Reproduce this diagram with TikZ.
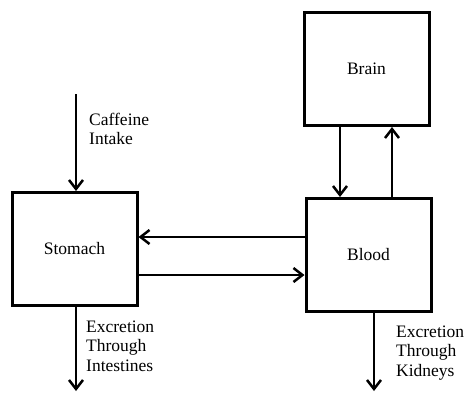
\documentclass[tikz,border=0pt]{standalone}
\usepackage{fontspec}
\setmainfont{Liberation Serif}
\usetikzlibrary{arrows.meta}
\begin{document}
\begin{tikzpicture}[x=1pt, y=-1pt]
        \tikzstyle{organ}=[draw, line width=3pt, rectangle,
            minimum width=125pt, minimum height=113pt, inner sep=0pt,
            font=\fontsize{17.5}{19.5}\selectfont]
        \tikzstyle{flow}=[line width=2.5pt,
            -{Straight Barb[length=9pt, width=14pt, line width=2.5pt]}]
        \tikzstyle{note}=[anchor=west, align=left, inner sep=0pt,
            font=\fontsize{17.5}{19.5}\selectfont]
        \useasboundingbox (0, 0) rectangle (468, 392);

        \node[organ] (stomach) at (74.5, 249) {Stomach};
        \node[organ] (brain) at (366.5, 69) {Brain};
        \node[organ] (blood) at (368.5, 255) {Blood};

        \coordinate (intake) at (76, 94);
        \coordinate (intestines) at (76, 391);
        \coordinate (kidneys) at (374, 391);

        \draw[flow] (intake) -- (intake |- stomach.north);
        \draw[flow] ([xshift=-26.5pt]brain.south) -- ([xshift=-26.5pt]brain.south |- blood.north);
        \draw[flow] ([xshift=25.5pt]brain.south |- blood.north) -- ([xshift=25.5pt]brain.south);
        \draw[flow] ([yshift=18pt]blood.west) -- ([yshift=18pt]blood.west -| stomach.east);
        \draw[flow] ([yshift=-26pt]stomach.east) -- ([yshift=-26pt]stomach.east -| blood.west);
        \draw[flow] (stomach.south -| intestines) -- (intestines);
        \draw[flow] (blood.south -| kidneys) -- (kidneys);

        \node[note] (lintake) at (89, 129) {Caffeine\\Intake};
        \node[note] (lintestines) at (86, 346) {Excretion\\Through\\Intestines};
        \node[note] (lkidneys) at (396, 353) {Excretion\\Through\\Kidneys};

    \end{tikzpicture}
\end{document}
